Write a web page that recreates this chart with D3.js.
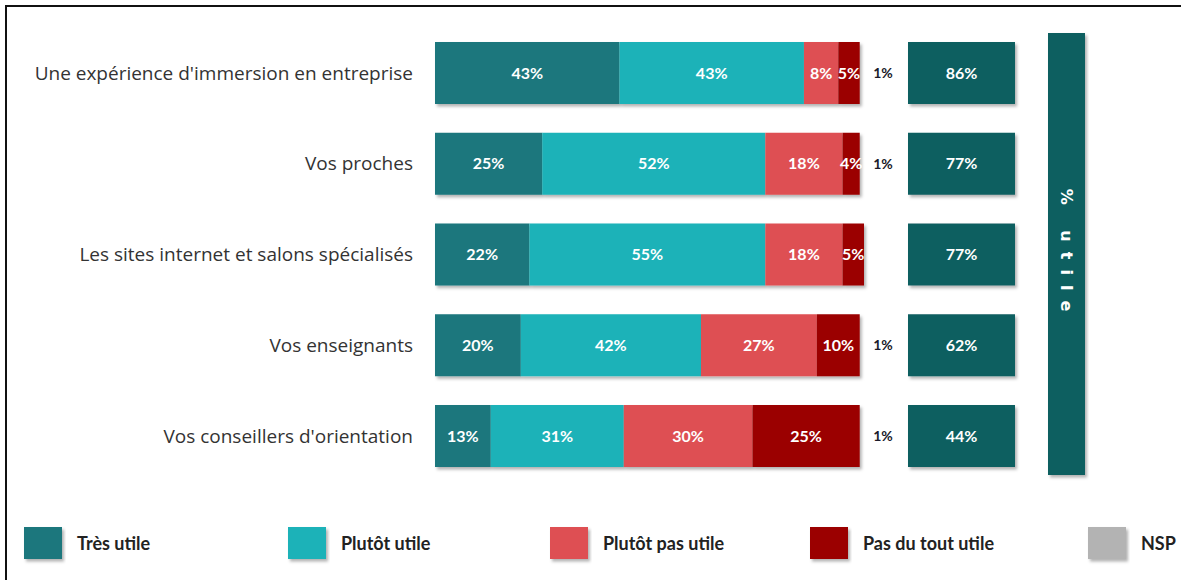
<!DOCTYPE html>
<html>
<head>
<meta charset="utf-8">
<script src="https://cdn.jsdelivr.net/npm/d3@7"></script>
<style>
  body { margin: 0; background: #fff; }
  svg { display: block; }
</style>
</head>
<body>
<svg id="chart"></svg>
<script>
var categories = [
  "Une expérience d'immersion en entreprise",
  "Vos proches",
  "Les sites internet et salons spécialisés",
  "Vos enseignants",
  "Vos conseillers d'orientation"
];
var tresUtile = [43, 25, 22, 20, 13];
var plutotUtile = [43, 52, 55, 42, 31];
var plutotPasUtile = [8, 18, 18, 27, 30];
var pasDuToutUtile = [5, 4, 5, 10, 25];
var nsp = [1, 1, 0, 1, 1];
var utile = [86, 77, 77, 62, 44];

var seriesNames = ["Très utile", "Plutôt utile", "Plutôt pas utile", "Pas du tout utile", "NSP"];
var seriesColors = ["#1a777d", "#1bb2b8", "#de5052", "#9b0303", "#b3b3b3"];

var width = 1181, height = 580;

var svg = d3.select("#chart").attr("width", width).attr("height", height);

var defs = svg.append("defs");
defs.append("filter")
  .attr("id", "shadow")
  .attr("x", "-5%").attr("y", "-10%").attr("width", "115%").attr("height", "130%")
  .append("feDropShadow")
  .attr("dx", 2).attr("dy", 2.5)
  .attr("stdDeviation", 1.5)
  .attr("flood-color", "#000")
  .attr("flood-opacity", 0.3);

// frame
svg.append("line").attr("x1", 6).attr("x2", width).attr("y1", 6).attr("y2", 6)
  .attr("stroke", "#111").attr("stroke-width", 2);
svg.append("line").attr("x1", 6).attr("x2", 6).attr("y1", 5).attr("y2", height)
  .attr("stroke", "#111").attr("stroke-width", 2);

var xScale = d3.scaleLinear().domain([0, 100]).range([435, 864]);
var yScale = d3.scaleBand()
  .domain(categories)
  .range([13.25, 495.75])
  .paddingInner(0.3168)
  .paddingOuter(0.3168);

// stack data
var rows = categories.map(function (c, i) {
  return {
    cat: c,
    "Très utile": tresUtile[i],
    "Plutôt utile": plutotUtile[i],
    "Plutôt pas utile": plutotPasUtile[i],
    "Pas du tout utile": pasDuToutUtile[i]
  };
});
var stacked = d3.stack().keys(seriesNames.slice(0, 4))(rows);

// category labels
svg.append("g").selectAll("text")
  .data(categories)
  .enter()
  .append("text")
  .attr("x", 413)
  .attr("y", function (d) { return yScale(d) + yScale.bandwidth() / 2; })
  .attr("dy", "0.35em")
  .attr("text-anchor", "end")
  .attr("font-family", "'Open Sans', sans-serif")
  .attr("font-size", "19px")
  .attr("fill", "#333")
  .text(function (d) { return d; });

// bars
var barGroup = svg.append("g");
categories.forEach(function (c, i) {
  var g = barGroup.append("g").attr("filter", "url(#shadow)");
  stacked.forEach(function (s, k) {
    var d = s[i];
    g.append("rect")
      .attr("x", xScale(d[0]))
      .attr("y", yScale(c))
      .attr("width", xScale(d[1]) - xScale(d[0]))
      .attr("height", yScale.bandwidth())
      .attr("fill", seriesColors[k]);
  });
});

// segment labels
stacked.forEach(function (s, k) {
  svg.append("g").selectAll("text")
    .data(s)
    .enter()
    .append("text")
    .attr("x", function (d) { return (xScale(d[0]) + xScale(d[1])) / 2; })
    .attr("y", function (d) { return yScale(d.data.cat) + yScale.bandwidth() / 2; })
    .attr("dy", "0.35em")
    .attr("text-anchor", "middle")
    .attr("font-family", "Lato, sans-serif")
    .attr("font-weight", "bold")
    .attr("font-size", "16px")
    .attr("fill", "#fff")
    .text(function (d) { return (d[1] - d[0]) + "%"; });
});

// NSP labels
svg.append("g").selectAll("text")
  .data(categories.filter(function (c, i) { return nsp[i] > 0; }))
  .enter()
  .append("text")
  .attr("x", xScale(100) + 19)
  .attr("y", function (d) { return yScale(d) + yScale.bandwidth() / 2; })
  .attr("dy", "0.35em")
  .attr("text-anchor", "middle")
  .attr("font-family", "Lato, sans-serif")
  .attr("font-weight", "bold")
  .attr("font-size", "14px")
  .attr("fill", "#1a1a2a")
  .text(function (d) { return nsp[categories.indexOf(d)] + "%"; });

// % utile boxes
var utileG = svg.append("g");
utileG.selectAll("rect")
  .data(categories)
  .enter()
  .append("rect")
  .attr("x", 908)
  .attr("y", function (d) { return yScale(d); })
  .attr("width", 107)
  .attr("height", yScale.bandwidth())
  .attr("fill", "#0f5e60")
  .attr("filter", "url(#shadow)");
utileG.selectAll("text")
  .data(categories)
  .enter()
  .append("text")
  .attr("x", 961.5)
  .attr("y", function (d) { return yScale(d) + yScale.bandwidth() / 2; })
  .attr("dy", "0.35em")
  .attr("text-anchor", "middle")
  .attr("font-family", "Lato, sans-serif")
  .attr("font-weight", "bold")
  .attr("font-size", "16px")
  .attr("fill", "#fff")
  .text(function (d, i) { return utile[i] + "%"; });

// vertical band
svg.append("rect")
  .attr("x", 1048).attr("y", 33)
  .attr("width", 37).attr("height", 442)
  .attr("fill", "#0f5e60")
  .attr("filter", "url(#shadow)");
svg.append("text")
  .attr("transform", "translate(1066.5,255) rotate(90)")
  .attr("text-anchor", "middle")
  .attr("dy", "0.35em")
  .attr("font-family", "'DejaVu Sans', sans-serif")
  .attr("font-weight", "bold")
  .attr("font-size", "16px")
  .attr("letter-spacing", "10px")
  .attr("fill", "#fff")
  .text("% utile");

// legend
var legendX = [24, 288, 550, 810, 1088];
var legend = svg.append("g").selectAll("g")
  .data(seriesNames)
  .enter()
  .append("g")
  .attr("transform", function (d, i) { return "translate(" + legendX[i] + ",527)"; });
legend.append("rect")
  .attr("width", 38)
  .attr("height", 32)
  .attr("fill", function (d, i) { return seriesColors[i]; })
  .attr("filter", "url(#shadow)");
legend.append("text")
  .attr("x", 53)
  .attr("y", 17)
  .attr("dy", "0.35em")
  .attr("font-family", "Lato, sans-serif")
  .attr("font-weight", "bold")
  .attr("font-size", "18px")
  .attr("fill", "#222")
  .text(function (d) { return d; });
</script>
</body>
</html>
